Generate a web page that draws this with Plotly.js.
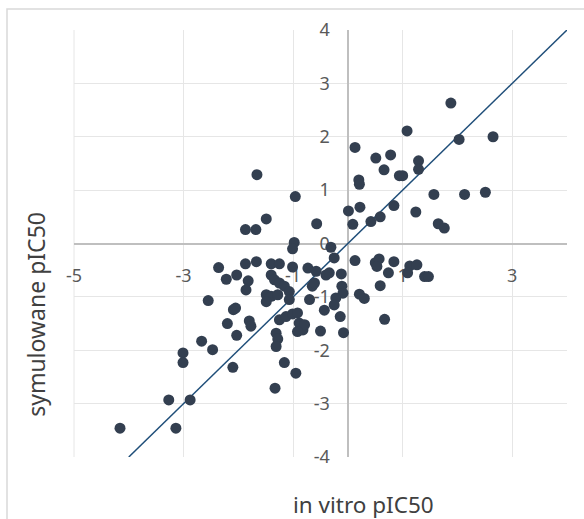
<!DOCTYPE html>
<html>
<head>
<meta charset="utf-8">
<script src="https://cdn.plot.ly/plotly-3.0.1.min.js"></script>
<style>
html,body{margin:0;padding:0;background:#fff;}
#chart{width:584px;height:519px;}
</style>
</head>
<body>
<div id="chart"></div>
<script>
// in vitro pIC50 (x) vs symulowane pIC50 (y)
var inVitro = [
  1.88, 1.08, 2.03, 2.65, 0.13, 0.51, 0.78, 1.29, 0.66, 1.29,
  0.94, 1.00, 0.20, 0.21, 1.57, 2.13, 2.51, -0.96, 0.84, 0.22,
  0.01, 1.24, 0.59, 0.42, -0.57, 0.09, 1.65, 1.76, -0.98, -1.01,
  -0.31, -0.25, -1.66, -1.49, -1.87, -1.68, -2.36, -1.87, -1.67, -1.40,
  -1.25, -1.01, -2.22, -2.03, -1.82, -1.86, -1.40, -1.34, -1.25, -1.16,
  -1.07, -1.49, -1.40, -1.49, -1.28, -1.07, -2.55, -2.09, -2.05, -2.20,
  -1.80, -1.77, -2.03, -2.67, -2.47, -3.01, -3.01, -2.10, -1.25, -1.13,
  -1.01, -1.31, -1.28, -1.31, -0.92, -0.89, -0.82, -0.79, -0.92, -1.16,
  -0.95, -1.33, -3.27, -2.88, -4.16, -3.14, 0.13, 0.50, 0.57, 0.53,
  0.84, 0.74, 0.59, 0.21, 0.30, 0.67, -0.12, -0.11, -0.09, -0.22,
  -0.25, -0.14, -0.08, -0.50, -0.43, -0.70, -0.65, -0.61, -0.73, -0.58,
  -0.40, -0.34, 1.13, 1.26, 1.09, 1.40, 1.47
];
var symulowane = [
  2.63, 2.11, 1.95, 2.00, 1.80, 1.60, 1.66, 1.55, 1.38, 1.39,
  1.27, 1.27, 1.19, 1.11, 0.92, 0.92, 0.96, 0.88, 0.71, 0.68,
  0.61, 0.59, 0.50, 0.41, 0.37, 0.36, 0.37, 0.29, 0.02, -0.10,
  -0.07, -0.27, 1.29, 0.46, 0.26, 0.26, -0.45, -0.38, -0.34, -0.38,
  -0.38, -0.44, -0.67, -0.59, -0.70, -0.87, -0.59, -0.68, -0.74, -0.80,
  -0.90, -0.96, -0.99, -1.09, -0.96, -1.05, -1.07, -1.24, -1.21, -1.50,
  -1.45, -1.55, -1.72, -1.83, -1.99, -2.05, -2.23, -2.32, -1.43, -1.37,
  -1.32, -1.68, -1.79, -1.93, -1.30, -1.49, -1.62, -1.52, -1.65, -2.23,
  -2.43, -2.71, -2.93, -2.93, -3.46, -3.46, -0.32, -0.36, -0.29, -0.43,
  -0.34, -0.55, -0.79, -0.95, -1.03, -1.42, -0.57, -0.80, -0.93, -1.02,
  -1.15, -1.37, -1.67, -1.64, -1.25, -1.05, -0.80, -0.74, -0.46, -0.52,
  -0.59, -0.55, -0.42, -0.40, -0.55, -0.62, -0.62
];
// reference line y = x
var lineX = [-4, 4];
var lineY = [-4, 4];

var xTickVals = [-5, -3, -1, 1, 3];
var xTickText = ['-5', '-3', '-1', '1', '3'];
var yTickVals = [-4, -3, -2, -1, 0, 1, 2, 3, 4];
var yTickText = ['-4', '-3', '-2', '-1', '0', '1', '2', '3', '4'];

var xTitle = 'in vitro pIC50';
var yTitle = 'symulowane pIC50';

var FONT = '"Noto Sans", "Open Sans", sans-serif';

var traces = [
  {
    x: lineX, y: lineY, type: 'scatter', mode: 'lines',
    line: {color: '#1f4e79', width: 1.5},
    hoverinfo: 'skip', showlegend: false
  },
  {
    x: inVitro, y: symulowane, type: 'scatter', mode: 'markers',
    marker: {color: '#333f50', size: 11},
    showlegend: false
  }
];

var layout = {
  width: 584, height: 519,
  margin: {l: 74, r: 17, t: 30, b: 62},
  paper_bgcolor: '#ffffff',
  plot_bgcolor: '#ffffff',
  showlegend: false,
  font: {family: FONT, color: '#595959', size: 18},
  xaxis: {
    range: [-5, 4],
    tickvals: xTickVals, ticktext: xTickText,
    showgrid: true, gridcolor: '#e6e6e6', gridwidth: 1,
    zeroline: true, zerolinecolor: '#bfbfbf', zerolinewidth: 2,
    showline: false, ticks: '',
    anchor: 'free', position: 0.5,
    ticklabelstandoff: 19,
    layer: 'below traces',
    tickfont: {family: FONT, size: 18, color: '#595959'},
    fixedrange: true
  },
  yaxis: {
    range: [-4, 4],
    tickvals: yTickVals, ticktext: yTickText,
    showgrid: true, gridcolor: '#e6e6e6', gridwidth: 1,
    zeroline: true, zerolinecolor: '#bfbfbf', zerolinewidth: 2,
    showline: false, ticks: '',
    anchor: 'free', position: 5 / 9,
    ticklabelstandoff: 18,
    layer: 'below traces',
    tickfont: {family: FONT, size: 18, color: '#595959'},
    fixedrange: true
  },
  shapes: [
    {
      type: 'rect', xref: 'paper', yref: 'paper',
      x0: -0.1359, x1: 1.5, y0: -0.5, y1: 1.0492,
      line: {color: '#d9d9d9', width: 1.5},
      fillcolor: 'rgba(0,0,0,0)', layer: 'below'
    },
    {
      type: 'line', xref: 'paper', yref: 'paper',
      x0: 0, x1: 0, y0: 0, y1: 1,
      line: {color: '#e6e6e6', width: 1}, layer: 'below'
    }
  ],
  annotations: [
    {
      text: xTitle, xref: 'paper', yref: 'paper',
      x: 0.588, y: -0.112, xanchor: 'center', yanchor: 'middle',
      showarrow: false,
      font: {family: FONT, size: 22.5, color: '#404040'}
    },
    {
      text: yTitle, xref: 'paper', yref: 'paper',
      x: -0.077, y: 0.333, xanchor: 'center', yanchor: 'middle',
      textangle: -90, showarrow: false,
      font: {family: FONT, size: 23, color: '#404040'}
    }
  ]
};

Plotly.newPlot('chart', traces, layout, {staticPlot: true, displayModeBar: false});
</script>
</body>
</html>
